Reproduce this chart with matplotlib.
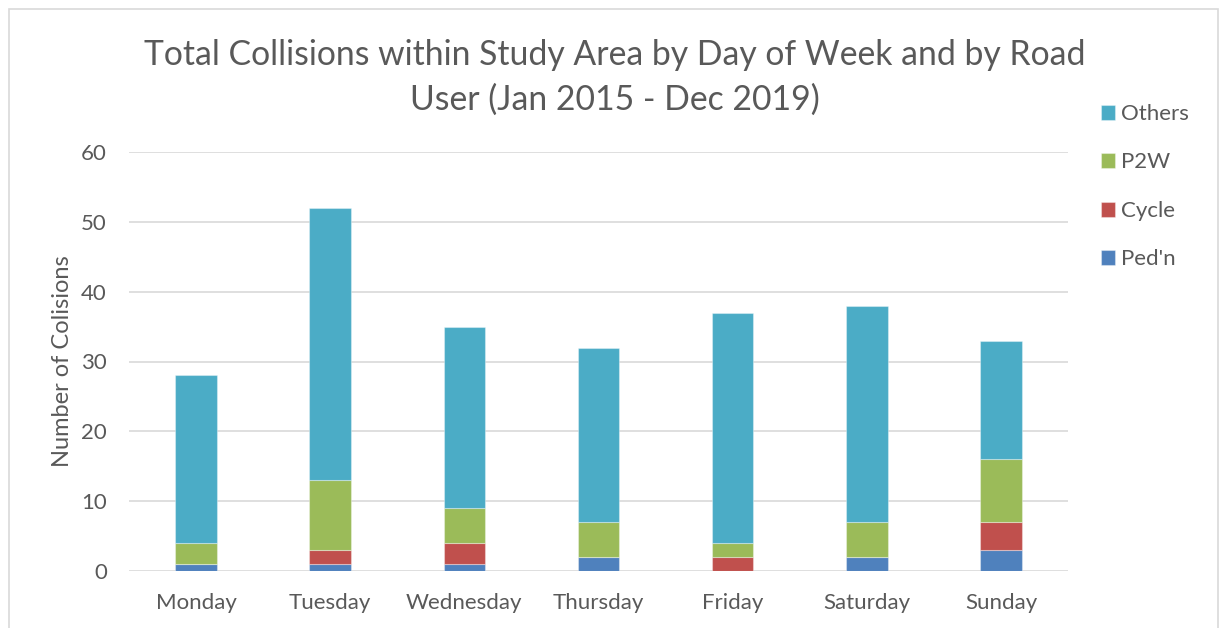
import numpy as np
import matplotlib.pyplot as plt
from matplotlib.patches import Rectangle

days = ["Monday", "Tuesday", "Wednesday", "Thursday", "Friday", "Saturday", "Sunday"]
pedn = [1, 1, 1, 2, 0, 2, 3]
cycle = [0, 2, 3, 0, 2, 0, 4]
p2w = [3, 10, 5, 5, 2, 5, 9]
others = [24, 39, 26, 25, 33, 31, 17]

series = [("Ped'n", pedn, "#4F81BD"),
          ("Cycle", cycle, "#C0504D"),
          ("P2W", p2w, "#9BBB59"),
          ("Others", others, "#4BACC6")]

txt = "#595959"
plt.rcParams['font.family'] = ['Lato', 'DejaVu Sans']

fig = plt.figure(figsize=(12.22, 6.28), dpi=100)
ax = fig.add_axes([129 / 1222, 1 - 571 / 628, (1068 - 129) / 1222, (571 - 152) / 628])

x = np.arange(len(days))
bottom = np.zeros(len(days))
for name, vals, col in series:
    ax.bar(x, vals, 0.31, bottom=bottom, color=col, label=name,
           edgecolor=(1, 1, 1, 0.35), linewidth=0.8, zorder=3)
    bottom += np.array(vals)

ax.set_xlim(-0.5, 6.5)
ax.set_ylim(0, 60)
ax.set_yticks(range(0, 61, 10))
ax.set_xticks(x)
ax.set_xticklabels(days)
ax.grid(axis='y', color='#D9D9D9', linewidth=1.2, zorder=0)
for s in ax.spines.values():
    s.set_visible(False)
ax.tick_params(length=0, labelsize=16, colors=txt)
ax.tick_params(axis='x', pad=16)
ax.tick_params(axis='y', pad=16)
ax.set_ylabel("Number of Colisions", fontsize=17, color=txt, labelpad=6)

# two-line title, placed by baseline
fig.text(615 / 1222, 1 - 65 / 628, "Total Collisions within Study Area by Day of Week and by Road",
         ha='center', va='baseline', fontsize=24.3, color=txt)
fig.text(615 / 1222, 1 - 110 / 628, "User (Jan 2015 - Dec 2019)",
         ha='center', va='baseline', fontsize=24.3, color=txt)

handles, labels = ax.get_legend_handles_labels()
leg = fig.legend(handles[::-1], labels[::-1], loc='upper left',
                 bbox_to_anchor=(1081 / 1222, 1 - 84 / 628), frameon=False,
                 fontsize=16, handlelength=0.65, handleheight=0.65,
                 handletextpad=0.27, labelspacing=1.28)
for t in leg.get_texts():
    t.set_color(txt)

fig.add_artist(Rectangle((9 / 1222, -0.1), (1218 - 9) / 1222, 1.1 - 9 / 628,
                         transform=fig.transFigure, fill=False,
                         edgecolor='#D9D9D9', linewidth=1.2))

fig.savefig("out.png", dpi=100)
